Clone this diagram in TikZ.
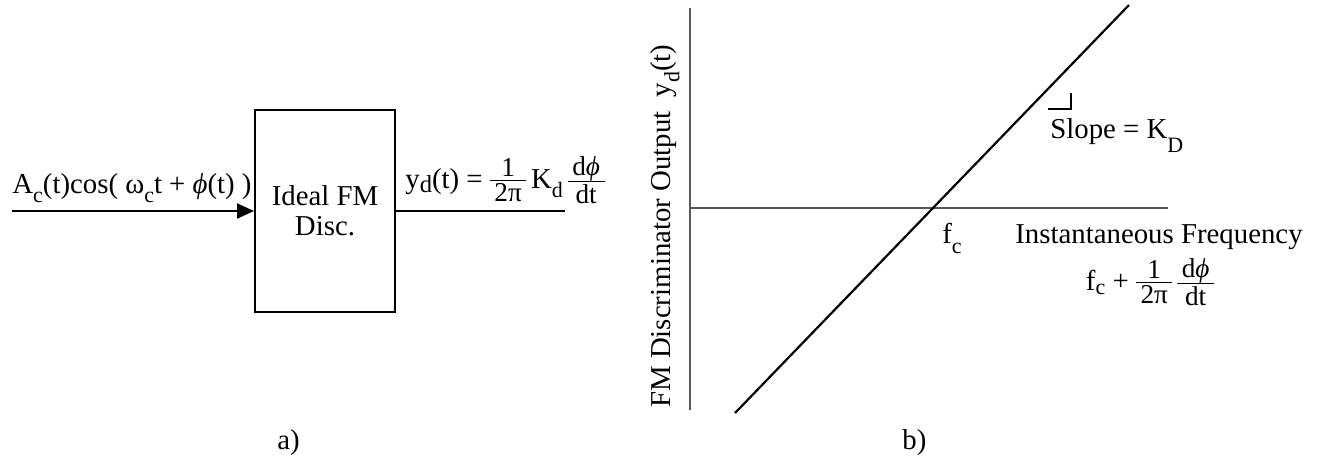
\documentclass[tikz,border=0pt]{standalone}
\usepackage{fontspec}
\setmainfont{Liberation Serif}
\usetikzlibrary{arrows.meta, positioning}
\newcommand{\lo}[2][0.7ex]{\raisebox{-#1}{\fontsize{12.5}{14}\selectfont #2}}
\newcommand{\fr}[2]{{\fontsize{15.5}{17}\selectfont\renewcommand{\arraystretch}{0.4}\setlength{\arrayrulewidth}{0.6pt}%
  \begin{tabular}{@{\,}c@{\,}}#1\\\hline\rule{0pt}{12pt}#2\end{tabular}}}

\begin{document}
\begin{tikzpicture}[x=0.02cm, y=-0.02cm,
    font=\fontsize{16.4}{17}\selectfont,
    lbl/.style={inner sep=0pt, anchor=base west},
    block/.style={draw, line width=1.15pt, minimum width=2.8cm, minimum height=4.04cm, align=center, inner sep=0pt},
    axis/.style={draw=black!65, line width=0.85pt},
    wire/.style={line width=1.3pt}]
    \useasboundingbox (0,0) rectangle (1318,457);

    % a) ideal discriminator block
    \node[block] (disc) at (325,211) {Ideal FM\\Disc.};
    \coordinate (src) at (12,211);
    \coordinate (sink) at (565,211);
    \draw[wire, -{Triangle[length=0.34cm, width=0.3cm]}] (src) -- (disc.west);
    \draw[wire] (disc.east) -- (sink);
    \node[lbl] (inlbl) at (12,193) {A\lo{c}(t)cos( ω\lo{c}t + \textit{ϕ}(t) )};
    \node[lbl] (outlbl) at (405,188) {y\lo[0.35ex]{\fontsize{14}{15}\selectfont d}(t) = \fr{1}{2π}\,K\lo{d}\,\fr{d\textit{ϕ}}{dt}};
    \node[lbl] (capa) at (277,449) {a)};

    % b) discriminator characteristic
    \coordinate (ytop) at (690,8);
    \coordinate (ybot) at (690,410);
    \coordinate (xorg) at (690,208);
    \coordinate (xend) at (1168,208);
    \draw[axis] (ytop) -- (ybot);
    \draw[axis] (xorg) -- (xend);
    \coordinate (lo) at (735,413);
    \coordinate (hi) at (1129,5);
    \draw[line width=1.25pt] (lo) -- (hi);
    \node[lbl, rotate=90] (ylbl) at (670,408) {FM Discriminator Output\ \ y\lo{d}(t)};
    \node[lbl] (fclbl) at (942,243) {f\lo[0.8ex]{c}};
    \node[lbl, anchor=base] (xlbl) at (1159,243) {Instantaneous Frequency};
    \node[lbl, anchor=base] (xform) at (1150,290) {f\lo[0.35ex]{c} + \fr{1}{2π}\,\fr{d\textit{ϕ}}{dt}};
    \node[lbl] (slope) at (1050,138) {Slope = K\lo[1.1ex]{D}};
    \draw[line width=0.6pt] (1048,109) -- (1071,109) -- (1071,93);
    \node[lbl] (capb) at (902,449) {b)};
\end{tikzpicture}
\end{document}
